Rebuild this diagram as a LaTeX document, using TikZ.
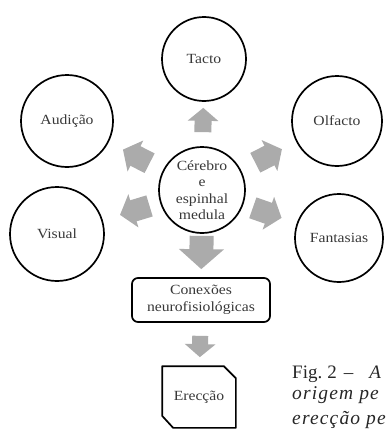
\documentclass[tikz,border=0pt]{standalone}
\usepackage{fontspec}
\setmainfont{Liberation Serif}
\newfontfamily\diagfont[FakeStretch=1.12]{Liberation Serif}
\usetikzlibrary{arrows.meta}

\begin{document}
\begin{tikzpicture}[x=1pt, y=-1pt,
    sense/.style={circle, draw, line width=1.7pt, inner sep=0pt, align=center,
        font=\diagfont\fontsize{14}{16.5}\selectfont, text=black!78},
    stage/.style={draw, line width=1.7pt, inner sep=0pt, align=center,
        font=\diagfont\fontsize{14}{16.5}\selectfont, text=black!78},
    blockarrow/.style={draw=black!33, line width=17pt, -{Triangle[width=30pt,length=13pt]}},
    sidearrow/.style={blockarrow, line width=22pt, -{Triangle[width=34pt,length=14pt]}},
    caption/.style={anchor=base west, inner sep=0pt, font=\fontsize{19}{22}\selectfont, text=black!85},
    spaced/.style={caption, font=\fontsize{19.5}{22}\selectfont\itshape\addfontfeature{LetterSpace=6}}]
    \useasboundingbox (0, 0) rectangle (386, 431);
    \node[sense, minimum size=86] (brain) at (202, 190) {Cérebro\\e\\espinhal\\medula};
    \node[sense, minimum size=84] (tacto) at (204, 59) {Tacto};
    \node[sense, minimum size=92] (audicao) at (67, 121) {Audição};
    \node[sense, minimum size=90] (olfacto) at (337, 121) {Olfacto};
    \node[sense, minimum size=94] (visual) at (57, 234) {Visual};
    \node[sense, minimum size=88] (fantasias) at (339, 238) {Fantasias};
    \node[stage, rounded corners=6pt, minimum width=138, minimum height=44]
        (conexoes) at (201, 300) {Conexões\\neurofisiológicas};
    \node[stage, draw=none, minimum width=72, minimum height=60] (erec) at (199, 397) {Erecção};
    \draw[line width=1.7pt, line join=round] (erec.north west)
        -- ([xshift=-12pt]erec.north east) -- ([yshift=-12pt]erec.north east)
        -- (erec.south east) -- ([xshift=11pt]erec.south west)
        -- ([yshift=12pt]erec.south west) -- cycle;
    \draw[blockarrow, shorten <=14pt, shorten >=6pt] (brain) -- (tacto);
    \draw[sidearrow, shorten <=15pt, shorten >=16pt] (brain) -- (audicao);
    \draw[sidearrow, shorten <=16pt, shorten >=16pt] (brain) -- (olfacto);
    \draw[sidearrow, shorten <=11pt, shorten >=18pt] (brain) -- (visual);
    \draw[sidearrow, shorten <=10pt, shorten >=16pt] (brain) -- (fantasias);
    \draw[blockarrow, line width=24pt, -{Triangle[width=44pt,length=20pt]},
        shorten <=2pt, shorten >=8pt] (brain) -- (conexoes);
    \draw[blockarrow, line width=16pt, shorten <=13pt, shorten >=9pt] (conexoes) -- (erec);
    \begin{scope}
        \clip (0, 0) rectangle (386, 431);
        \node[caption] (fig) at (292, 378) {Fig.\hspace{5pt}2\hspace{7pt}–\hspace{16pt}\textit{A}};
        \node[spaced] (origem) at (292, 399) {origem pe};
        \node[spaced] (ereccao) at (292, 424) {erecção pe};
    \end{scope}
\end{tikzpicture}
\end{document}
